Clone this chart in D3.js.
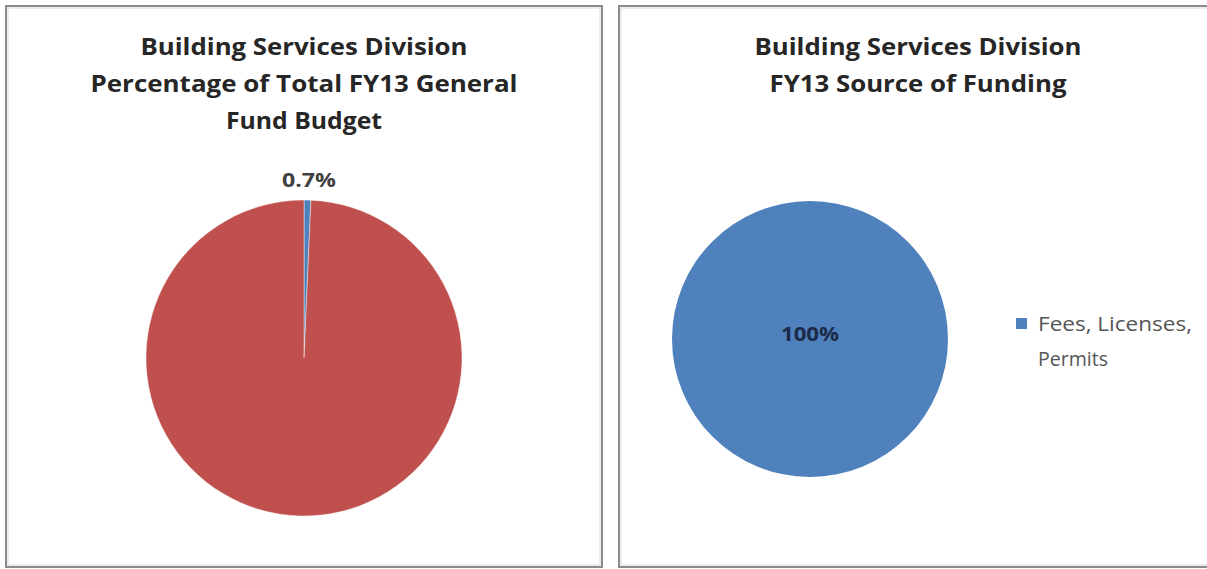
<!DOCTYPE html>
<html>
<head>
<meta charset="utf-8">
<script src="https://cdn.jsdelivr.net/npm/d3@7"></script>
<style>
  html, body { margin: 0; padding: 0; background: #ffffff; }
  svg { display: block; }
  text { font-family: "Open Sans", "Noto Sans", "DejaVu Sans", sans-serif; }
</style>
</head>
<body>
<svg id="chart" width="1207" height="569"></svg>
<script>
// Share of the FY13 General Fund budget
const budgetCategories = ["Building Services Division", "Rest of General Fund"];
const budgetValues = [0.7, 99.3];
const budgetLabels = ["0.7%", ""];
const budgetTitle = ["Building Services Division", "Percentage of Total FY13 General", "Fund Budget"];

// FY13 sources of funding
const fundingCategories = ["Fees, Licenses, Permits"];
const fundingValues = [100];
const fundingLabels = ["100%"];
const fundingTitle = ["Building Services Division", "FY13 Source of Funding"];
const legendLines = ["Fees, Licenses,", "Permits"];

const BLUE = "#4f81bd", RED = "#c0504d";

const svg = d3.select("#chart");

// Panel frames
function frame(x0, y0, x1, y1) {
  svg.append("rect")
    .attr("x", x0).attr("y", y0)
    .attr("width", x1 - x0).attr("height", y1 - y0)
    .attr("fill", "#ffffff")
    .attr("stroke", "#8c8c8c").attr("stroke-width", 2);
  svg.append("rect")
    .attr("x", x0 + 2).attr("y", y0 + 2)
    .attr("width", x1 - x0 - 4).attr("height", y1 - y0 - 4)
    .attr("fill", "none")
    .attr("stroke", "#e6e6e6").attr("stroke-width", 1.5);
}
frame(6, 6, 602, 567);
frame(619, 6, 1215, 567);

// Title lines, each fitted to its measured width
function title(lines, cx, y0, widths) {
  lines.forEach((t, i) => {
    svg.append("text")
      .attr("x", cx).attr("y", y0 + i * 37)
      .attr("text-anchor", "middle")
      .attr("font-size", 23.5).attr("font-weight", "bold")
      .attr("fill", "#262626")
      .attr("textLength", widths[i])
      .attr("lengthAdjust", "spacingAndGlyphs")
      .text(t);
  });
}
title(budgetTitle, 304, 55, [327, 427, 156]);
title(fundingTitle, 918, 55, [327, 297]);

const pie = d3.pie().sort(null).value(d => d);

// Left pie: budget share
{
  const cx = 304, cy = 358, r = 158;
  const g = svg.append("g").attr("transform", `translate(${cx},${cy})`);
  const arc = d3.arc().innerRadius(0).outerRadius(r);
  const color = d3.scaleOrdinal().domain(budgetCategories).range([BLUE, RED]);
  const arcs = pie(budgetValues);
  g.selectAll("path").data(arcs).join("path")
    .attr("d", arc)
    .attr("fill", (d, i) => color(budgetCategories[i]))
    .attr("stroke", "#ffffff").attr("stroke-width", 0.6).attr("stroke-opacity", 0.7);
  const labelArc = d3.arc().innerRadius(r + 19).outerRadius(r + 19);
  arcs.forEach((d, i) => {
    if (!budgetLabels[i]) return;
    const [lx, ly] = labelArc.centroid(d);
    g.append("text")
      .attr("x", lx + 1).attr("y", ly + 1)
      .attr("text-anchor", "middle")
      .attr("dominant-baseline", "middle")
      .attr("font-size", 19.5).attr("font-weight", "bold")
      .attr("fill", "#404040")
      .attr("textLength", 54)
      .attr("lengthAdjust", "spacingAndGlyphs")
      .text(budgetLabels[i]);
  });
}

// Right pie: funding source
{
  const cx = 810, cy = 339, r = 138;
  const g = svg.append("g").attr("transform", `translate(${cx},${cy})`);
  const arc = d3.arc().innerRadius(0).outerRadius(r);
  const color = d3.scaleOrdinal().domain(fundingCategories).range([BLUE]);
  const arcs = pie(fundingValues);
  g.selectAll("path").data(arcs).join("path")
    .attr("d", arc)
    .attr("fill", (d, i) => color(fundingCategories[i]));
  arcs.forEach((d, i) => {
    g.append("text")
      .attr("x", 0).attr("y", -3)
      .attr("text-anchor", "middle")
      .attr("dominant-baseline", "middle")
      .attr("font-size", 19.5).attr("font-weight", "bold")
      .attr("fill", "#1c2a48")
      .attr("textLength", 58)
      .attr("lengthAdjust", "spacingAndGlyphs")
      .text(fundingLabels[i]);
  });

  // Legend
  const lg = svg.append("g").attr("transform", "translate(1016,318)");
  lg.append("rect").attr("x", 0).attr("y", 0).attr("width", 11).attr("height", 11)
    .attr("fill", color(fundingCategories[0]));
  legendLines.forEach((t, i) => {
    lg.append("text")
      .attr("x", 22).attr("y", 13 + i * 35)
      .attr("font-size", 20.5)
      .attr("fill", "#555555")
      .attr("textLength", i === 0 ? 154 : 70)
      .attr("lengthAdjust", "spacingAndGlyphs")
      .text(t);
  });
}
</script>
</body>
</html>
